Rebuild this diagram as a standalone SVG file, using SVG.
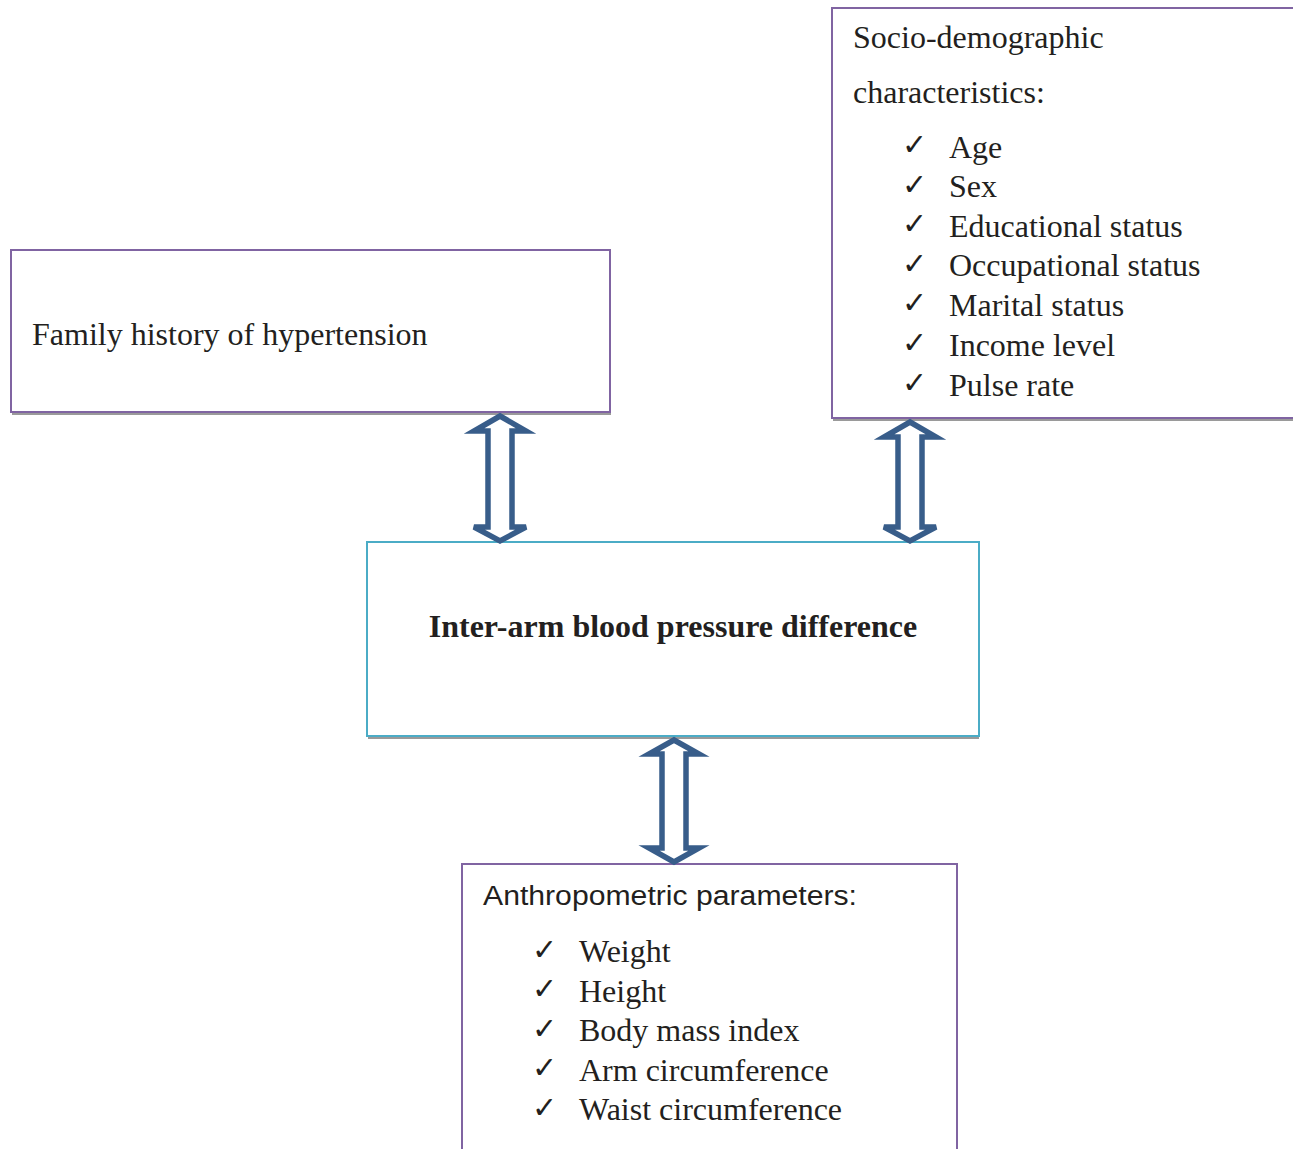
<svg xmlns="http://www.w3.org/2000/svg" width="1293" height="1149" viewBox="0 0 1293 1149">
<style>
.box{fill:#fff;stroke:#8064A2;stroke-width:2}
.cbox{fill:#fff;stroke:#4BACC6;stroke-width:2}
.sh{fill:#9a9a9a}
.t{font-family:"Liberation Serif","Times New Roman",serif;font-size:32px;fill:#231F20}
.b{font-weight:bold}
.s{font-family:"Liberation Sans",Arial,sans-serif;font-size:27px;fill:#231F20}
.ck{font-family:"DejaVu Sans",sans-serif;font-size:30px;fill:#231F20}
.arr{fill:#fff;stroke:#385D8A;stroke-width:5.5;stroke-linejoin:miter}
</style>
<g id="family">
<rect class="sh" x="12" y="411" width="599" height="4"/>
<rect class="box" x="11" y="250" width="599" height="162"/>
<text class="t" x="32" y="345">Family history of hypertension</text>
</g>
<g id="socio">
<rect class="sh" x="833" y="417" width="460" height="4"/>
<rect class="box" x="832" y="8" width="470" height="410"/>
<text class="t" x="853" y="48">Socio-demographic</text>
<text class="t" x="853" y="103">characteristics:</text>
<text class="ck" x="902" y="155">✓</text><text class="t" x="949" y="158">Age</text>
<text class="ck" x="902" y="195">✓</text><text class="t" x="949" y="197">Sex</text>
<text class="ck" x="902" y="234">✓</text><text class="t" x="949" y="237">Educational status</text>
<text class="ck" x="902" y="274">✓</text><text class="t" x="949" y="276">Occupational status</text>
<text class="ck" x="902" y="313">✓</text><text class="t" x="949" y="316">Marital status</text>
<text class="ck" x="902" y="353">✓</text><text class="t" x="949" y="356">Income level</text>
<text class="ck" x="902" y="393">✓</text><text class="t" x="949" y="396">Pulse rate</text>
</g>
<g id="center">
<rect class="sh" x="368" y="735" width="611" height="4"/>
<rect class="cbox" x="367" y="542" width="612" height="194"/>
<text class="t b" x="673" y="637" text-anchor="middle">Inter-arm blood pressure difference</text>
</g>
<g id="anthro">
<rect class="box" x="462" y="864" width="495" height="300"/>
<text class="s" x="483" y="905" textLength="374" lengthAdjust="spacingAndGlyphs">Anthropometric parameters:</text>
<text class="ck" x="532" y="960">✓</text><text class="t" x="579" y="962">Weight</text>
<text class="ck" x="532" y="999">✓</text><text class="t" x="579" y="1002">Height</text>
<text class="ck" x="532" y="1039">✓</text><text class="t" x="579" y="1041">Body mass index</text>
<text class="ck" x="532" y="1078">✓</text><text class="t" x="579" y="1081">Arm circumference</text>
<text class="ck" x="532" y="1118">✓</text><text class="t" x="579" y="1120">Waist circumference</text>
</g>
<g id="connectors">
<polygon class="arr" points="500,416 526,431 512,431 512,527 526,527 500,541 474,527 488,527 488,431 474,431"/>
<polygon class="arr" points="910,422 936,437 922,437 922,527 936,527 910,541 884,527 898,527 898,437 884,437"/>
<polygon class="arr" points="674,740 699,754 686,754 686,848 699,848 674,862 649,848 662,848 662,754 649,754"/>
</g>
</svg>
